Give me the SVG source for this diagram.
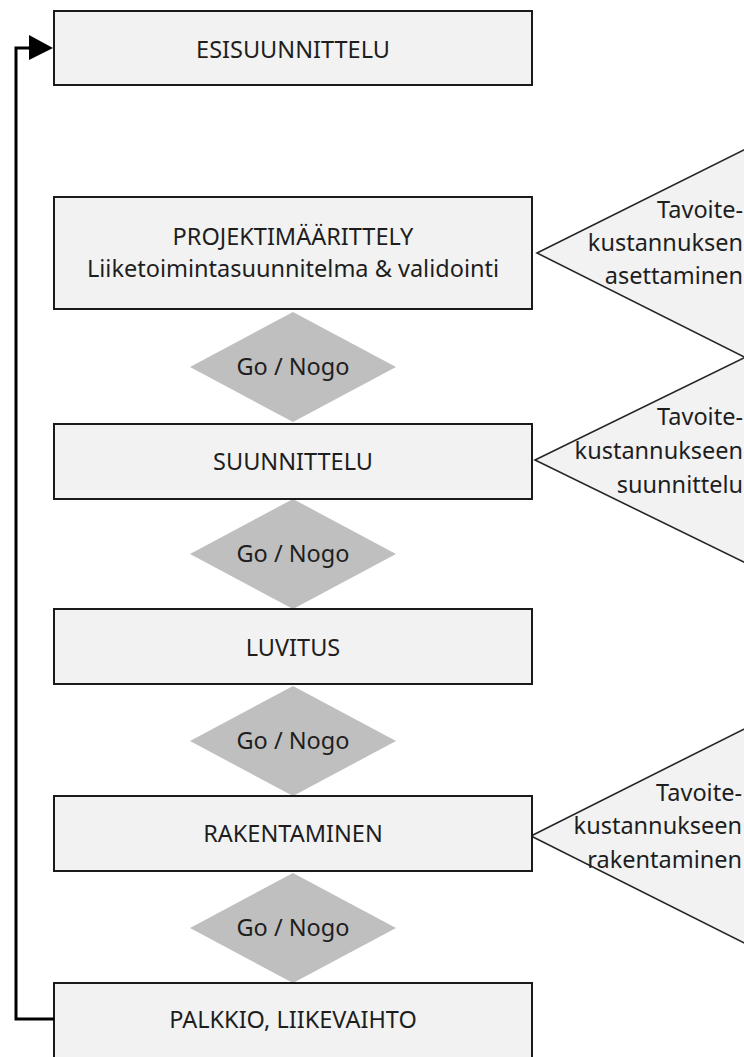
<svg xmlns="http://www.w3.org/2000/svg" width="744" height="1057" viewBox="0 0 744 1057">
<defs>
<style>
.box{fill:#f2f2f2;stroke:#1a1a1a;stroke-width:2}
.tri{fill:#f2f2f2;stroke:#262626;stroke-width:1.6}
.dia{fill:#bfbfbf;stroke:none}
text{font-family:"Noto Sans","Open Sans",sans-serif;font-size:23.5px;fill:#1e1e1e}
.c{text-anchor:middle}
.r{text-anchor:end}
.conn{fill:none;stroke:#000;stroke-width:3}
</style>
</defs>
<rect width="744" height="1057" fill="#fff"/>

<g id="tri1"><polygon class="tri" points="537,253 760,142 760,365"/>
<text class="r" x="743" y="218">Tavoite-</text><text class="r" x="743" y="251">kustannuksen</text><text class="r" x="743" y="284">asettaminen</text></g>
<g id="tri2"><polygon class="tri" points="535,460 760,350 760,570"/>
<text class="r" x="743" y="425">Tavoite-</text><text class="r" x="743" y="459">kustannukseen</text><text class="r" x="743" y="493">suunnittelu</text></g>
<g id="tri3"><polygon class="tri" points="531,836 760,721 760,951"/>
<text class="r" x="742" y="801">Tavoite-</text><text class="r" x="742" y="834">kustannukseen</text><text class="r" x="742" y="868">rakentaminen</text></g>

<g id="d1"><polygon class="dia" points="293,312 396,367 293,422 190,367"/><text class="c" x="293" y="375">Go / Nogo</text></g>
<g id="d2"><polygon class="dia" points="293,499 396,554 293,609 190,554"/><text class="c" x="293" y="562">Go / Nogo</text></g>
<g id="d3"><polygon class="dia" points="293,686 396,741 293,796 190,741"/><text class="c" x="293" y="749">Go / Nogo</text></g>
<g id="d4"><polygon class="dia" points="293,873 396,928 293,983 190,928"/><text class="c" x="293" y="936">Go / Nogo</text></g>

<g id="n1"><rect class="box" x="54" y="11" width="478" height="74"/><text class="c" x="293" y="58">ESISUUNNITTELU</text></g>
<g id="n2"><rect class="box" x="54" y="197" width="478" height="112"/><text class="c" x="293" y="245">PROJEKTIMÄÄRITTELY</text><text class="c" x="293" y="277">Liiketoimintasuunnitelma &amp; validointi</text></g>
<g id="n3"><rect class="box" x="54" y="424" width="478" height="75"/><text class="c" x="293" y="470">SUUNNITTELU</text></g>
<g id="n4"><rect class="box" x="54" y="609" width="478" height="75"/><text class="c" x="293" y="656">LUVITUS</text></g>
<g id="n5"><rect class="box" x="54" y="796" width="478" height="75"/><text class="c" x="293" y="842">RAKENTAMINEN</text></g>
<g id="n6"><rect class="box" x="54" y="983" width="478" height="80"/><text class="c" x="293" y="1028">PALKKIO, LIIKEVAIHTO</text></g>

<g id="connectors">
<path class="conn" d="M54,1019 H16 V48 H30"/>
<polygon points="29,35 53,48 29,60" fill="#000"/>
</g>
</svg>
